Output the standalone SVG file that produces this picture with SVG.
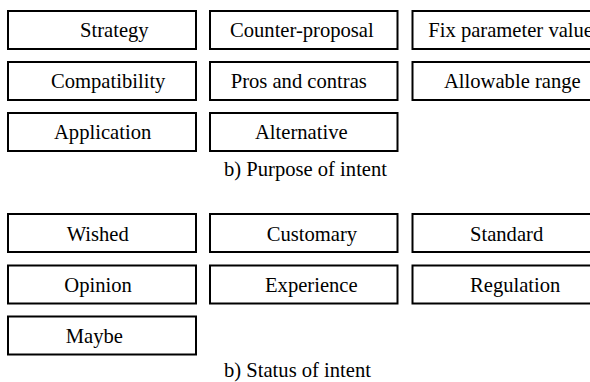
<svg xmlns="http://www.w3.org/2000/svg" width="590" height="382" viewBox="0 0 590 382" font-family="'Liberation Serif', 'Times New Roman', serif">
  <style>
    .box { fill: #ffffff; stroke: #000000; stroke-width: 2; }
    .lbl { font-family: "Liberation Serif", "Times New Roman", serif !important; font-size: 20.6px; fill: #000000; }
  </style>
  <rect x="0" y="0" width="590" height="382" fill="#ffffff"/>

  <!-- Purpose of intent -->
  <g id="strategy"><rect class="box" x="8" y="11" width="188" height="38"/><text class="lbl" style="font-family:'Liberation Serif',serif" x="80" y="37.3">Strategy</text></g>
  <g id="counter-proposal"><rect class="box" x="210" y="11" width="187.5" height="38"/><text class="lbl" style="font-family:'Liberation Serif',serif" x="230" y="37.3">Counter-proposal</text></g>
  <g id="fix-parameter-value"><rect class="box" x="412.5" y="11" width="188" height="38"/><text class="lbl" style="font-family:'Liberation Serif',serif" x="428.3" y="37.3">Fix parameter value</text></g>

  <g id="compatibility"><rect class="box" x="8" y="62" width="188" height="38"/><text class="lbl" style="font-family:'Liberation Serif',serif" x="51" y="87.5">Compatibility</text></g>
  <g id="pros-and-contras"><rect class="box" x="210" y="62" width="187.5" height="38"/><text class="lbl" style="font-family:'Liberation Serif',serif" x="230.7" y="87.5">Pros and contras</text></g>
  <g id="allowable-range"><rect class="box" x="412.5" y="62" width="188" height="38"/><text class="lbl" style="font-family:'Liberation Serif',serif" x="444" y="87.5">Allowable range</text></g>

  <g id="application"><rect class="box" x="8" y="113" width="188" height="38"/><text class="lbl" style="font-family:'Liberation Serif',serif" x="54" y="138.5">Application</text></g>
  <g id="alternative"><rect class="box" x="210" y="113" width="187.5" height="38"/><text class="lbl" style="font-family:'Liberation Serif',serif" x="255" y="138.5">Alternative</text></g>

  <text class="lbl" style="font-family:'Liberation Serif',serif" x="224" y="176">b) Purpose of intent</text>

  <!-- Status of intent -->
  <g id="wished"><rect class="box" x="8" y="214" width="188" height="38"/><text class="lbl" style="font-family:'Liberation Serif',serif" x="66.7" y="241">Wished</text></g>
  <g id="customary"><rect class="box" x="210" y="214" width="187.5" height="38"/><text class="lbl" style="font-family:'Liberation Serif',serif" x="266.7" y="241">Customary</text></g>
  <g id="standard"><rect class="box" x="412.5" y="214" width="188" height="38"/><text class="lbl" style="font-family:'Liberation Serif',serif" x="470" y="241">Standard</text></g>

  <g id="opinion"><rect class="box" x="8" y="265.5" width="188" height="38"/><text class="lbl" style="font-family:'Liberation Serif',serif" x="64.3" y="291.7">Opinion</text></g>
  <g id="experience"><rect class="box" x="210" y="265.5" width="187.5" height="38"/><text class="lbl" style="font-family:'Liberation Serif',serif" x="265" y="291.7">Experience</text></g>
  <g id="regulation"><rect class="box" x="412.5" y="265.5" width="188" height="38"/><text class="lbl" style="font-family:'Liberation Serif',serif" x="470" y="291.7">Regulation</text></g>

  <g id="maybe"><rect class="box" x="8" y="316.5" width="188" height="38"/><text class="lbl" style="font-family:'Liberation Serif',serif" x="65.7" y="342.7">Maybe</text></g>

  <text class="lbl" style="font-family:'Liberation Serif',serif" x="224" y="377">b) Status of intent</text>

  <!-- no connectors in this figure -->
  <g id="connectors"/>
</svg>
